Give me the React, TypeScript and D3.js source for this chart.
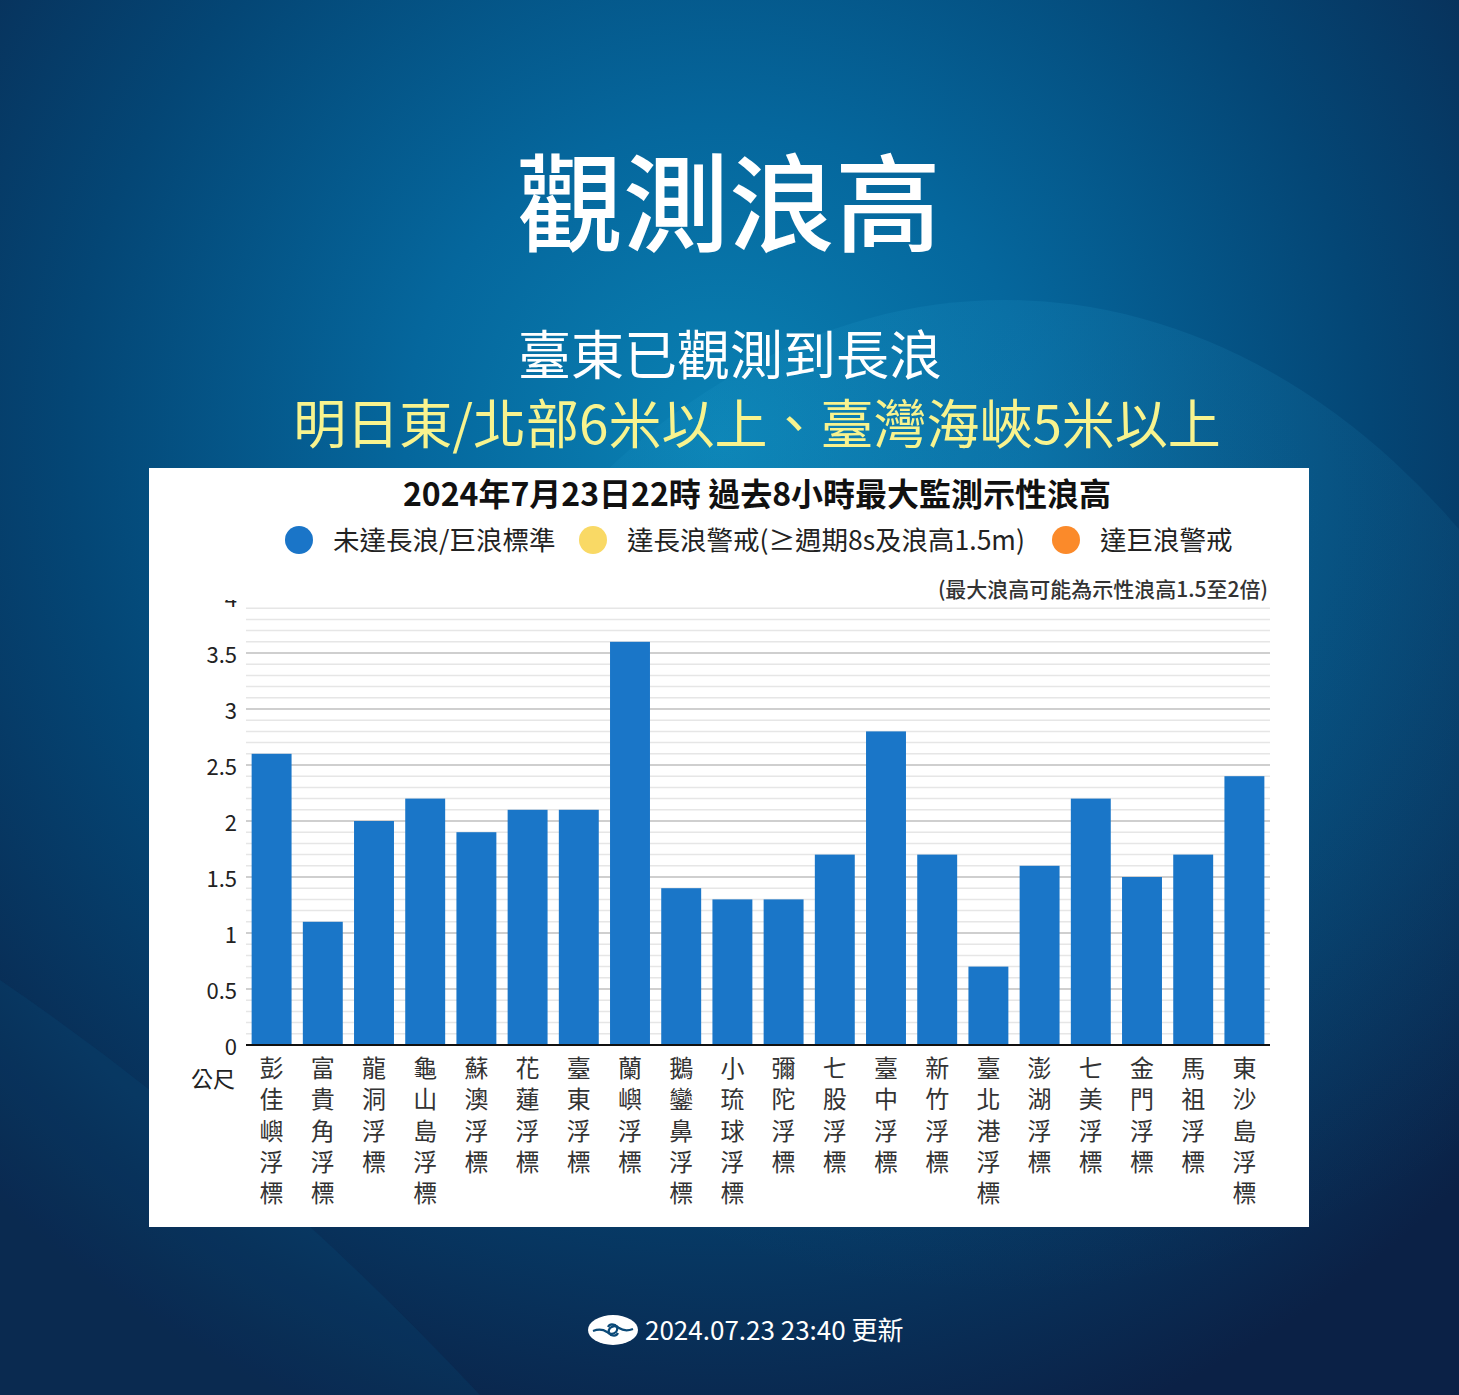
import React from "react";
import * as d3 from "d3";

const stations = [
  "彭佳嶼浮標", "富貴角浮標", "龍洞浮標", "龜山島浮標", "蘇澳浮標",
  "花蓮浮標", "臺東浮標", "蘭嶼浮標", "鵝鑾鼻浮標", "小琉球浮標",
  "彌陀浮標", "七股浮標", "臺中浮標", "新竹浮標", "臺北港浮標",
  "澎湖浮標", "七美浮標", "金門浮標", "馬祖浮標", "東沙島浮標",
];
const waveHeights = [2.6, 1.1, 2.0, 2.2, 1.9, 2.1, 2.1, 3.6, 1.4, 1.3, 1.3, 1.7, 2.8, 1.7, 0.7, 1.6, 2.2, 1.5, 1.7, 2.4];
const yTicks = [0, 0.5, 1, 1.5, 2, 2.5, 3, 3.5, 4];
const legendItems = [
  { label: "未達長浪/巨浪標準", color: "#1a75c8" },
  { label: "達長浪警戒(≥週期8s及浪高1.5m)", color: "#f9d965" },
  { label: "達巨浪警戒", color: "#fb8a2a" },
];

const FONT = "'Noto Sans CJK TC', 'Noto Sans', sans-serif";

export default function App() {
  const W = 1459, H = 1395;
  const x = d3.scaleBand<string>().domain(stations).range([246, 1270]).paddingInner(0.22).paddingOuter(0.11);
  const y = d3.scaleLinear().domain([0, 4]).range([1045, 597]);
  const minor = d3.range(1, 40).map((i) => i / 10).filter((v) => Math.round(v * 10) % 5 !== 0);
  const major = [0.5, 1, 1.5, 2, 2.5, 3, 3.5];
  const legendX = [299, 593, 1066];

  return (
    <svg width={W} height={H} style={{ position: "absolute", left: 0, top: 0 }} fontFamily={FONT}>
      <defs>
        <radialGradient id="bg" gradientUnits="userSpaceOnUse" cx={720} cy={440} r={1050}>
          <stop offset="0" stopColor="#0a82b4" />
          <stop offset="0.3" stopColor="#05679d" />
          <stop offset="0.62" stopColor="#044675" />
          <stop offset="1" stopColor="#0b2146" />
        </radialGradient>
        <radialGradient id="arc" gradientUnits="userSpaceOnUse" cx={1000} cy={500} r={800}>
          <stop offset="0" stopColor="#2aa8d8" stopOpacity="0.18" />
          <stop offset="1" stopColor="#2aa8d8" stopOpacity="0" />
        </radialGradient>
        <clipPath id="plotClip">
          <rect x={150} y={600} width={1150} height={500} />
        </clipPath>
      </defs>
      <rect x={0} y={0} width={W} height={H} fill="url(#bg)" />
      <ellipse cx={1005} cy={1260} rx={700} ry={960} fill="url(#arc)" />
      <path d="M0,980 Q250,1150 480,1395 L0,1395 Z" fill="#0a6aa0" opacity={0.12} />

      <text x={729} y={197} textAnchor="middle" dominantBaseline="central" fill="#fff" fontSize={106} fontWeight={500}>觀測浪高</text>
      <text x={730} y={352} textAnchor="middle" dominantBaseline="central" fill="#fff" fontSize={53}>臺東已觀測到長浪</text>
      <text x={757} y={421} textAnchor="middle" dominantBaseline="central" fill="#f8f38e" fontSize={53}>明日東/北部6米以上、臺灣海峽5米以上</text>

      <rect x={149} y={468} width={1160} height={759} fill="#fff" />
      <text x={757} y={492} textAnchor="middle" dominantBaseline="central" fill="#111" fontSize={32} fontWeight={700}>2024年7月23日22時 過去8小時最大監測示性浪高</text>
      {legendItems.map((d, i) => (
        <g key={d.label}>
          <circle cx={legendX[i]} cy={540} r={14} fill={d.color} />
          <text x={legendX[i] + 34} y={538} dominantBaseline="central" fill="#222" fontSize={26.5}>{d.label}</text>
        </g>
      ))}
      <text x={1268} y={588} textAnchor="end" dominantBaseline="central" fill="#333" fontSize={21} fontWeight={500}>(最大浪高可能為示性浪高1.5至2倍)</text>

      {minor.map((v) => (
        <line key={"m" + v} x1={246} x2={1270} y1={y(v)} y2={y(v)} stroke="#e6e6e6" strokeWidth={1.5} />
      ))}
      {major.map((v) => (
        <line key={"M" + v} x1={246} x2={1270} y1={y(v)} y2={y(v)} stroke="#cfcfcf" strokeWidth={2} />
      ))}

      <g clipPath="url(#plotClip)">
        {yTicks.map((v) => (
          <text key={"t" + v} x={237} y={y(v)} textAnchor="end" dominantBaseline="central" fill="#222" fontSize={22}>{v}</text>
        ))}
      </g>

      {stations.map((s, i) => (
        <rect key={s} x={x(s)} y={y(waveHeights[i])} width={x.bandwidth()} height={y(0) - y(waveHeights[i])} fill="#1a76c8" />
      ))}
      <line x1={246} x2={1270} y1={y(0)} y2={y(0)} stroke="#111" strokeWidth={2} />

      <text x={213} y={1077} textAnchor="middle" dominantBaseline="central" fill="#222" fontSize={22}>公尺</text>
      {stations.map((s) => {
        const cx = (x(s) as number) + x.bandwidth() / 2;
        return (
          <text key={"l" + s} x={cx} y={1066} textAnchor="middle" dominantBaseline="central" fill="#333" fontSize={24}>
            {Array.from(s).map((ch, j) => (
              <tspan key={j} x={cx} dy={j === 0 ? 0 : 31.3}>{ch}</tspan>
            ))}
          </text>
        );
      })}

      <g transform="translate(613,1330)">
        <ellipse cx={0} cy={0} rx={25} ry={15} fill="#fff" />
        <path d="M-20,1 Q-12,-2 -6,2 Q-2,6 3,2 Q6,-2 2,-5 Q-3,-7 -5,-3" fill="none" stroke="#0b4a78" strokeWidth={2.2} />
        <path d="M20,-1 Q12,2 6,-2 Q2,-6 -3,-2 Q-6,2 -2,5 Q3,7 5,3" fill="none" stroke="#0b4a78" strokeWidth={2.2} />
      </g>
      <text x={645} y={1328} dominantBaseline="central" fill="#fff" fontSize={26}>2024.07.23 23:40 更新</text>
    </svg>
  );
}
